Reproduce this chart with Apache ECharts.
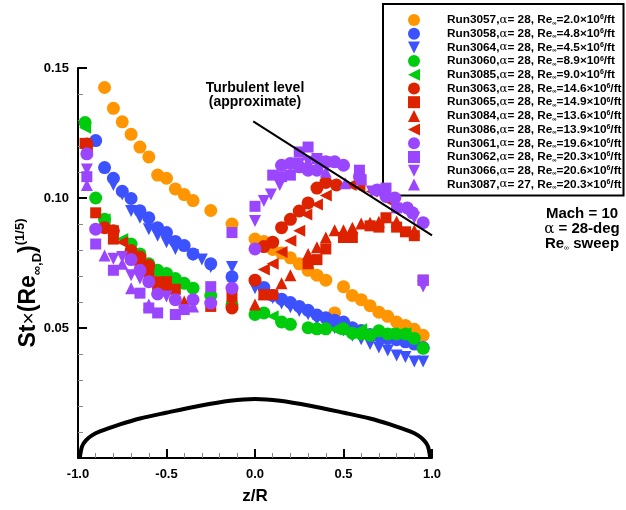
<!DOCTYPE html>
<html>
<head>
<meta charset="utf-8">
<script src="https://cdn.jsdelivr.net/npm/echarts@6/dist/echarts.min.js"></script>
<style>
  html, body { margin: 0; padding: 0; background: #fff; }
  #chart { width: 626px; height: 510px; }
</style>
</head>
<body>
<div id="chart"></div>
<script>
// Run identifiers, angle of attack and free-stream unit Reynolds number (x10^6/ft)
const runs   = ['Run3057','Run3058','Run3064','Run3060','Run3085','Run3063','Run3065','Run3084','Run3086','Run3061','Run3062','Run3066','Run3087'];
const alphas = [28, 28, 28, 28, 28, 28, 28, 28, 28, 28, 28, 28, 27];
const reUnit = ['2.0','4.8','4.5','8.9','9.0','14.6','14.9','13.6','13.9','19.6','20.3','20.6','20.3'];

// Normalised heating, St x (Re_inf,D)^(1/5), against z/R
const run3057 = [[-0.85,0.1425],[-0.80,0.1345],[-0.75,0.1293],[-0.70,0.1245],[-0.65,0.1196],[-0.60,0.1158],[-0.55,0.1088],[-0.50,0.1076],[-0.45,0.1035],[-0.40,0.1013],[-0.35,0.0990],[-0.25,0.0952],[-0.13,0.0900],
  [0.00,0.0842],[0.05,0.0833],[0.10,0.0802],[0.15,0.0788],[0.20,0.0770],[0.25,0.0747],[0.30,0.0722],[0.35,0.0703],[0.40,0.0684],[0.45,0.0558],[0.50,0.0659],[0.55,0.0625],[0.60,0.0609],[0.65,0.0586],[0.70,0.0561],[0.75,0.0545],[0.80,0.0523],[0.85,0.0510],[0.90,0.0495],[0.95,0.0472]];
const run3058 = [[-0.90,0.1221],[-0.85,0.1117],[-0.80,0.1076],[-0.75,0.1026],[-0.70,0.0998],[-0.65,0.0951],[-0.60,0.0924],[-0.55,0.0886],[-0.50,0.0867],[-0.45,0.0833],[-0.40,0.0817],[-0.35,0.0785],[-0.25,0.0747],[-0.13,0.0697],
  [0.05,0.0656],[0.10,0.0625],[0.15,0.0611],[0.20,0.0598],[0.25,0.0583],[0.30,0.0568],[0.35,0.0550],[0.40,0.0539],[0.45,0.0530],[0.50,0.0523],[0.55,0.0501],[0.60,0.0490],[0.65,0.0475],[0.70,0.0470],[0.75,0.0460],[0.80,0.0455],[0.85,0.0447],[0.90,0.0438],[0.95,0.0425]];
const run3064 = [[-0.80,0.1050],[-0.75,0.1013],[-0.70,0.0950],[-0.65,0.0924],[-0.60,0.0880],[-0.55,0.0855],[-0.50,0.0830],[-0.45,0.0804],[-0.35,0.0780],[-0.30,0.0763],[-0.25,0.0735],[-0.13,0.0735],
  [0.00,0.0653],[0.10,0.0615],[0.15,0.0594],[0.20,0.0580],[0.25,0.0565],[0.30,0.0553],[0.35,0.0533],[0.40,0.0520],[0.45,0.0500],[0.50,0.0490],[0.55,0.0470],[0.60,0.0457],[0.65,0.0438],[0.70,0.0425],[0.75,0.0413],[0.80,0.0394],[0.85,0.0388],[0.90,0.0371],[0.95,0.0371]];
const run3060 = [[-0.96,0.1290],[-0.90,0.1000],[-0.85,0.0918],[-0.70,0.0823],[-0.65,0.0785],[-0.60,0.0747],[-0.55,0.0722],[-0.50,0.0710],[-0.45,0.0690],[-0.40,0.0672],[-0.35,0.0653],[-0.25,0.0625],[-0.13,0.0590],
  [0.00,0.0552],[0.05,0.0558],[0.15,0.0523],[0.20,0.0514],[0.30,0.0501],[0.35,0.0497],[0.40,0.0497],[0.50,0.0497],[0.55,0.0480],[0.60,0.0477],[0.65,0.0472],[0.70,0.0489],[0.75,0.0477],[0.80,0.0477],[0.85,0.0477],[0.90,0.0460],[0.95,0.0422]];
const run3085 = [[-0.96,0.1270],[-0.85,0.0918],[-0.75,0.0842],[-0.60,0.0730],
  [0.10,0.0545],[0.45,0.0495],[0.60,0.0495],[0.75,0.0480],[0.85,0.0480]];
const run3063 = [[-0.95,0.1208],[-0.85,0.0886],[-0.80,0.0874],[-0.70,0.0798],[-0.65,0.0773],[-0.60,0.0740],[-0.13,0.0577],
  [0.00,0.0684],[0.05,0.0813],[0.10,0.0830],[0.15,0.0886],[0.20,0.0918],[0.25,0.0950],[0.30,0.0981],[0.35,0.1038],[0.40,0.1060],[0.46,0.1050]];
const run3065 = [[-0.96,0.1210],[-0.90,0.0943],[-0.80,0.0874],[-0.80,0.0842],[-0.70,0.0770],[-0.65,0.0747],[-0.60,0.0716],[-0.55,0.0678],[-0.55,0.0659],[-0.50,0.0678],[-0.50,0.0653],[-0.45,0.0649],[-0.25,0.0583],[-0.13,0.0621],
  [0.05,0.0628],[0.10,0.0628],[0.30,0.0747],[0.35,0.0763],[0.40,0.0804],[0.50,0.0848],[0.55,0.0848],[0.65,0.0893],[0.70,0.0888],[0.74,0.0924],[0.80,0.0888],[0.85,0.0870],[0.90,0.0855],[0.95,0.0684]];
const run3084 = [[-0.95,0.1180],[-0.40,0.0602],
  [0.00,0.0590],[0.05,0.0630],[0.15,0.0672],[0.20,0.0703],[0.30,0.0785],[0.35,0.0811],[0.40,0.0848],[0.45,0.0876],[0.50,0.0876],[0.55,0.0886],[0.60,0.0902],[0.65,0.0905],[0.70,0.0909],[0.80,0.0910],[0.90,0.0875]];
const run3086 = [[-0.95,0.1190],[-0.75,0.0830],
  [0.05,0.0725],[0.10,0.0747],[0.15,0.0792],[0.20,0.0836],[0.25,0.0874],[0.29,0.0937],[0.35,0.0975],[0.40,0.1010],[0.54,0.1050],[0.59,0.1040],[0.66,0.1025],[0.75,0.0990],[0.84,0.0960]];
const run3061 = [[-0.95,0.1170],[-0.90,0.0880],[-0.70,0.0763],[-0.65,0.0722],[-0.60,0.0678],[-0.55,0.0631],[-0.45,0.0609],[-0.35,0.0609],[-0.25,0.0596],[-0.13,0.0653],
  [0.00,0.0804],[0.15,0.1126],[0.20,0.1133],[0.25,0.1120],[0.30,0.1107],[0.35,0.1107],[0.40,0.1139],[0.45,0.1139],[0.50,0.1126],[0.59,0.1082],[0.69,0.1031],[0.74,0.1006],[0.79,0.1000],[0.86,0.0962],[0.89,0.0943],[0.95,0.0905]];
const run3062 = [[-0.95,0.1082],[-0.90,0.0823],[-0.80,0.0722],[-0.65,0.0634],[-0.60,0.0577],[-0.55,0.0558],[-0.45,0.0552],[-0.40,0.0571],[-0.25,0.0659],[-0.13,0.0867],
  [0.00,0.0968],[0.10,0.1088],[0.15,0.1082],[0.20,0.1088],[0.25,0.1177],[0.30,0.1196],[0.35,0.1152],[0.40,0.1139],[0.59,0.1107],[0.60,0.1070],[0.74,0.1038],[0.80,0.0962],[0.95,0.0684]];
const run3066 = [[-0.95,0.1110],[-0.80,0.0766],[-0.75,0.0773],[-0.70,0.0703],[-0.65,0.0690],[-0.50,0.0621],
  [0.00,0.0912],[0.05,0.0988],[0.09,0.1013],[0.14,0.1050],[0.25,0.1133],[0.30,0.1139],[0.66,0.1025],[0.90,0.0924],[0.95,0.0660]];
const run3087 = [[-0.95,0.1050],[-0.85,0.0779],[-0.75,0.0747],[-0.70,0.0653],[-0.60,0.0590],[-0.35,0.0583],
  [0.30,0.1139],[0.40,0.1101],[0.51,0.1057]];

// Approximate turbulent heating level
const turbulentLevel = [[-0.01,0.1295],[1.00,0.0856]];

// Model cross-section outline sketched under the data
const bodyOutline = [[-0.99,0.0],[-0.977,0.0045],[-0.955,0.0068],[-0.921,0.0087],[-0.876,0.0102],[-0.763,0.0129],[-0.65,0.0152],[-0.503,0.0174],[-0.311,0.0201],[-0.141,0.0220],[0.0,0.0227],
  [0.141,0.0220],[0.311,0.0201],[0.503,0.0174],[0.65,0.0152],[0.763,0.0129],[0.876,0.0102],[0.921,0.0087],[0.955,0.0068],[0.977,0.0045],[0.99,0.0]];

const xTicks = { min: -1.0, max: 1.0, step: 0.5 };
const yTicks = { min: 0.0, max: 0.15, step: 0.05 };

// Marker shapes: circle, square, up / down / left-pointing triangles
const TRI_UP = 'path://M6,0L12,12L0,12Z';
const TRI_DOWN = 'path://M0,0L12,0L6,12Z';
const TRI_LEFT = 'path://M12,0L12,12L0,6Z';

const ORANGE = '#ff9500', BLUE = '#3d52ff', GREEN = '#00cc0e', RED = '#dd2200', PURPLE = '#9a46ff';
const seriesData = [run3057, run3058, run3064, run3060, run3085, run3063, run3065, run3084, run3086, run3061, run3062, run3066, run3087];
const seriesLook = [
  { color: ORANGE, symbol: 'circle', size: 13 },
  { color: BLUE,   symbol: 'circle', size: 13 },
  { color: BLUE,   symbol: TRI_DOWN, size: 12 },
  { color: GREEN,  symbol: 'circle', size: 13 },
  { color: GREEN,  symbol: TRI_LEFT, size: 12 },
  { color: RED,    symbol: 'circle', size: 13 },
  { color: RED,    symbol: 'rect', size: 11 },
  { color: RED,    symbol: TRI_UP, size: 12 },
  { color: RED,    symbol: TRI_LEFT, size: 12 },
  { color: PURPLE, symbol: 'circle', size: 13 },
  { color: PURPLE, symbol: 'rect', size: 11 },
  { color: PURPLE, symbol: TRI_DOWN, size: 12 },
  { color: PURPLE, symbol: TRI_UP, size: 12 }
];

const FONT = '"Liberation Sans", Arial, Helvetica, sans-serif';
const SERIF = '"DejaVu Serif", "Liberation Serif", serif';

const scatterSeries = runs.map((name, i) => ({
  name,
  type: 'scatter',
  data: seriesData[i],
  symbol: seriesLook[i].symbol,
  symbolSize: seriesLook[i].size,
  itemStyle: { color: seriesLook[i].color, opacity: 1 },
  z: 3 + i
}));

const legendItems = runs.map((name, i) => ({ name, icon: seriesLook[i].symbol }));
const legendLabel = {};
runs.forEach((r, i) => {
  legendLabel[r] = '{b0|' + r + ',}{a|α}{b|= ' + alphas[i] + ', Re}{s|∞}{b|=' + reUnit[i] + '×10}{p|6}{b|/ft}';
});

const chart = echarts.init(document.getElementById('chart'), null, { renderer: 'canvas' });
chart.setOption({
  backgroundColor: '#ffffff',
  animation: false,
  grid: { left: 78, right: 194, top: 68, bottom: 47, containLabel: false },
  xAxis: {
    type: 'value', min: xTicks.min, max: xTicks.max, interval: xTicks.step,
    name: 'z/R', nameLocation: 'middle', nameGap: 30,
    nameTextStyle: { fontFamily: FONT, fontWeight: 'bold', fontSize: 17, color: '#000' },
    axisLine: { show: true, onZero: false, lineStyle: { color: '#000', width: 2 } },
    axisTick: { show: true, inside: true, length: 9, lineStyle: { color: '#000', width: 2 } },
    minorTick: { show: true, splitNumber: 5, length: 5, lineStyle: { color: '#888', width: 1 } },
    axisLabel: { fontFamily: FONT, fontWeight: 'bold', fontSize: 13, color: '#000', margin: 10,
                 formatter: v => v.toFixed(1) },
    splitLine: { show: false }
  },
  yAxis: {
    type: 'value', min: yTicks.min, max: yTicks.max, interval: yTicks.step,
    axisLine: { show: true, onZero: false, lineStyle: { color: '#000', width: 2 } },
    axisTick: { show: true, inside: true, length: 9, lineStyle: { color: '#000', width: 2 } },
    minorTick: { show: true, splitNumber: 5, length: 5, lineStyle: { color: '#888', width: 1 } },
    axisLabel: { fontFamily: FONT, fontWeight: 'bold', fontSize: 13, color: '#000', margin: 9,
                 showMinLabel: false, formatter: v => v.toFixed(2) },
    splitLine: { show: false }
  },
  legend: {
    data: legendItems,
    orient: 'vertical',
    left: 383, top: 4,
    padding: [10, 2, 5, 25],
    itemWidth: 12, itemHeight: 12, itemGap: 1.7,
    borderColor: '#000', borderWidth: 2, borderRadius: 0,
    backgroundColor: '#fff',
    selectedMode: false,
    formatter: name => legendLabel[name],
    textStyle: {
      color: '#000',
      rich: {
        b0: { fontFamily: FONT, fontWeight: 'bold', fontSize: 11.8, lineHeight: 12, padding: [0, 0, 0, 22] },
        b: { fontFamily: FONT, fontWeight: 'bold', fontSize: 11.8, lineHeight: 12 },
        a: { fontFamily: SERIF, fontSize: 11.8, lineHeight: 12 },
        s: { fontFamily: FONT, fontWeight: 'bold', fontSize: 6, lineHeight: 12, verticalAlign: 'bottom' },
        p: { fontFamily: FONT, fontWeight: 'bold', fontSize: 7, lineHeight: 12, verticalAlign: 'top' }
      }
    }
  },
  graphic: [
    {
      // vertical axis title
      type: 'text', x: 29, y: 283, rotation: Math.PI / 2,
      style: {
        text: '{m|St}{x|×}{m|(Re}{s|∞,D}{m|)}{p|(1/5)}',
        align: 'center', verticalAlign: 'middle', fill: '#000',
        rich: {
          m: { fontFamily: FONT, fontWeight: 'bold', fontSize: 23, lineHeight: 30 },
          x: { fontFamily: FONT, fontSize: 21, lineHeight: 30 },
          s: { fontFamily: FONT, fontWeight: 'bold', fontSize: 13, lineHeight: 30, verticalAlign: 'bottom' },
          p: { fontFamily: FONT, fontWeight: 'bold', fontSize: 13, lineHeight: 30, verticalAlign: 'top' }
        }
      }
    },
    {
      type: 'text', x: 255, y: 95,
      style: {
        text: 'Turbulent level\n(approximate)',
        fontFamily: FONT, fontWeight: 'bold', fontSize: 14, lineHeight: 14,
        fill: '#000', align: 'center', verticalAlign: 'middle'
      }
    },
    {
      type: 'text', x: 582, y: 229,
      style: {
        text: '{t|Mach = 10}\n{g|α}{t| = 28-deg}\n{t|Re}{s|∞}{t| sweep}',
        align: 'center', verticalAlign: 'middle', fill: '#000',
        rich: {
          t: { fontFamily: FONT, fontWeight: 'bold', fontSize: 15, lineHeight: 15 },
          g: { fontFamily: SERIF, fontSize: 15, lineHeight: 15 },
          s: { fontFamily: FONT, fontSize: 7, lineHeight: 15, verticalAlign: 'bottom' }
        }
      }
    }
  ],
  series: [
    {
      name: 'body', type: 'line', data: bodyOutline, smooth: 0.3, symbol: 'none',
      lineStyle: { color: '#000', width: 4 }, z: 2, silent: true
    },
    ...scatterSeries,
    {
      name: 'turbulent', type: 'line', data: turbulentLevel, symbol: 'none',
      lineStyle: { color: '#000', width: 2 }, z: 20, silent: true
    }
  ]
});
</script>
</body>
</html>
